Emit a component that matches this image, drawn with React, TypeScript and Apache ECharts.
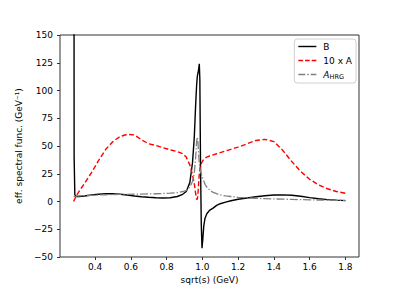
import React, { useEffect, useRef } from "react";
import * as echarts from "echarts";

const sqrtS = [0.28, 0.283, 0.287, 0.295, 0.31, 0.34, 0.38, 0.42, 0.46, 0.5, 0.54, 0.58, 0.62, 0.66, 0.7, 0.74, 0.78, 0.82, 0.86, 0.89, 0.91, 0.93, 0.945, 0.955, 0.962, 0.968, 0.972, 0.976, 0.98, 0.983, 0.986, 0.99, 0.994, 0.998, 1.002, 1.008, 1.015, 1.025, 1.04, 1.06, 1.08, 1.1, 1.13, 1.16, 1.2, 1.25, 1.3, 1.35, 1.4, 1.45, 1.5, 1.55, 1.6, 1.65, 1.7, 1.75, 1.8];

const seriesB = [800, 40, 6, 4.5, 4.5, 5, 5.8, 6.5, 7, 7, 6.5, 5.8, 5, 4.3, 3.8, 3.4, 3.2, 3.4, 4.5, 6.5, 9, 17, 35, 58, 85, 105, 113, 116, 120, 124, 110, 30, -20, -42, -35, -22, -15, -11, -8, -6, -3.5, -2, -0.5, 0.7, 2, 3.2, 4.3, 5.2, 5.8, 6, 5.6, 4.7, 3.5, 2.5, 1.7, 1.2, 0.8];

const series10A = [0, 1, 2.5, 5, 9, 16, 26, 37, 47, 54, 58.5, 60.5, 60, 55.5, 52, 50.5, 48.5, 46.5, 45, 43, 40, 33, 24, 16, 8, 2, 2, 8, 18, 25, 29, 32, 34, 35.5, 36.5, 38, 39, 40, 41, 42, 43, 44, 45.5, 47, 49, 52, 55, 56, 54, 46, 36, 27, 20, 15, 11.5, 9, 7.4];

const seriesHRG = [4.5, 4.6, 4.7, 4.8, 5, 5.3, 5.6, 5.9, 6.1, 6.3, 6.4, 6.5, 6.6, 6.7, 6.8, 7, 7.2, 7.5, 8, 9, 10, 13, 18, 26, 38, 54, 58, 52, 40, 35, 30, 27, 25, 23, 21, 18.5, 15.5, 13, 10.5, 8.2, 7, 6, 5, 4.5, 3.8, 3.3, 2.9, 2.6, 2.3, 2.1, 1.9, 1.7, 1.5, 1.3, 1.2, 1.0, 0.9];

const xTicks = [0.4, 0.6, 0.8, 1.0, 1.2, 1.4, 1.6, 1.8];
const yTicks = [-50, -25, 0, 25, 50, 75, 100, 125, 150];

const FONT = "DejaVu Sans";

const ICON_SOLID = "path://M0,0H18V1.4H0Z";
const ICON_DASHED = "path://M0,0H4.6V1.4H0Z M6.7,0H11.3V1.4H6.7Z M13.4,0H18V1.4H13.4Z";
const ICON_DASHDOT = "path://M0,0H7V1.3H0Z M9,0H10.4V1.3H9Z M12.4,0H18V1.3H12.4Z";

export default function App() {
  const ref = useRef<HTMLDivElement>(null);
  useEffect(() => {
    if (!ref.current) return;
    const chart = echarts.init(ref.current, undefined, { renderer: "svg" });
    const pair = (ys: number[]) => sqrtS.map((x, i) => [x, ys[i]]);
    chart.setOption({
      animation: false,
      backgroundColor: "#fff",
      textStyle: { fontFamily: FONT },
      grid: {
        left: 60,
        right: 51,
        top: 35,
        bottom: 33,
        show: true,
        borderColor: "#333",
        borderWidth: 1,
        backgroundColor: "transparent",
      },
      legend: {
        orient: "vertical",
        right: 54,
        top: 39,
        itemWidth: 18,
        itemHeight: 8,
        itemGap: 5,
        padding: [3, 4, 3, 4],
        borderColor: "#d0d0d0",
        borderWidth: 1,
        borderRadius: 3,
        backgroundColor: "rgba(255,255,255,0.8)",
        textStyle: {
          fontFamily: FONT,
          fontSize: 9,
          color: "#000",
          padding: [0, 0, 0, 2],
          rich: {
            i: { fontFamily: FONT, fontSize: 9, fontStyle: "italic", color: "#000" },
            s: { fontFamily: FONT, fontSize: 6.5, color: "#000", padding: [4, 0, 0, 0] },
          },
        },
        formatter: (name: string) => (name === "AHRG" ? "{i|A}{s|HRG}" : name),
        data: [
          { name: "B", icon: ICON_SOLID },
          { name: "10 x A", icon: ICON_DASHED },
          { name: "AHRG", icon: ICON_DASHDOT },
        ],
      },
      xAxis: {
        type: "value",
        min: 0.204,
        max: 1.876,
        name: "sqrt(s) (GeV)",
        nameLocation: "middle",
        nameGap: 15,
        nameTextStyle: { fontFamily: FONT, fontSize: 9, color: "#000" },
        axisLine: { show: false, onZero: false },
        splitLine: { show: false },
        axisTick: { show: true, length: 3, lineStyle: { color: "#333" }, customValues: xTicks },
        axisLabel: {
          fontFamily: FONT,
          fontSize: 9,
          color: "#000",
          margin: 5,
          customValues: xTicks,
          formatter: (v: number) => v.toFixed(1),
        },
      },
      yAxis: {
        type: "value",
        min: -50,
        max: 150,
        interval: 25,
        name: "eff. spectral func. (GeV⁻¹)",
        nameLocation: "middle",
        nameGap: 21,
        nameTextStyle: { fontFamily: FONT, fontSize: 9, color: "#000" },
        axisLine: { show: false, onZero: false },
        splitLine: { show: false },
        axisTick: { show: true, length: 3, lineStyle: { color: "#333" }, customValues: yTicks },
        axisLabel: {
          fontFamily: FONT,
          fontSize: 9,
          color: "#000",
          margin: 7,
          customValues: yTicks,
          formatter: (v: number) => (v < 0 ? "\u2212" + Math.abs(v) : String(v)),
        },
      },
      series: [
        {
          name: "B",
          type: "line",
          data: pair(seriesB),
          symbol: "none",
          clip: true,
          lineStyle: { color: "#000", width: 1.4 },
          itemStyle: { color: "#000" },
        },
        {
          name: "10 x A",
          type: "line",
          data: pair(series10A),
          symbol: "none",
          clip: true,
          lineStyle: { color: "#ff0000", width: 1.4, type: [5, 2.5] },
          itemStyle: { color: "#ff0000" },
        },
        {
          name: "AHRG",
          type: "line",
          data: pair(seriesHRG),
          symbol: "none",
          clip: true,
          lineStyle: { color: "#808080", width: 1.3, type: [8, 2, 1.3, 2] },
          itemStyle: { color: "#808080" },
        },
      ],
    });
    return () => chart.dispose();
  }, []);
  return (
    <div
      ref={ref}
      style={{ position: "fixed", left: 0, top: 0, width: 410, height: 290, background: "#fff" }}
    />
  );
}
